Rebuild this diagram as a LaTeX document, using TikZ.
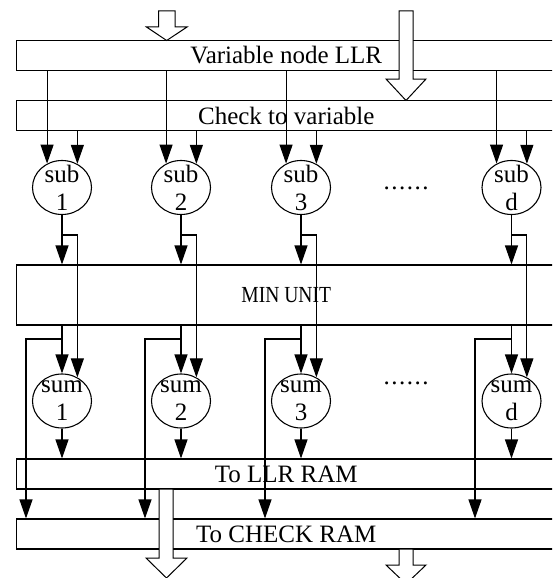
\documentclass[tikz,border=0pt]{standalone}
\usepackage{fontspec}
\setmainfont{Liberation Serif}
\newfontfamily\narrowfont[FakeStretch=0.85]{Liberation Serif}
\newfontfamily\dotsfont[LetterSpace=6]{Liberation Serif}
\usetikzlibrary{arrows.meta,shapes.geometric}

\begin{document}
\begin{tikzpicture}[x=1pt,y=-1pt,line width=1.1pt,>={Triangle[length=19pt,width=13pt]},font=\fontsize{25}{28}\selectfont]
\tikzstyle{bar}=[draw,minimum width=539.5pt,minimum height=30pt,inner sep=0pt]
\tikzstyle{pe}=[draw,ellipse,minimum width=59pt,minimum height=54pt,inner xsep=-6pt,inner ysep=-15pt,align=center]
\tikzstyle{hollow}=[draw,fill=white,line width=1pt]
\useasboundingbox (0,0) rectangle (552,578);
\clip (0,0) rectangle (552,578);
% memories and min unit
\node[bar] (vn) at (286.25,55.5) {Variable node LLR};
\node[bar] (cv) at (286.25,115.5) {Check to variable};
\node[bar,minimum height=60pt,font=\narrowfont\fontsize{23}{27}\selectfont] (mu) at (286.25,295) {MIN UNIT};
\node[bar] (lr) at (286.25,474) {To LLR RAM};
\node[bar] (cr) at (286.25,534) {To CHECK RAM};
% column 1
\node[pe] (s1) at (62,187.5) {sub\\1}; \node[pe] (m1) at (62,401) {sum\\1};
\coordinate (b1) at (62,235); \coordinate (k1) at (62,339); \coordinate (t1) at (26,339);
\draw[->] (vn.south -| s1.122.2) -- (s1.122.2); \draw[->] (cv.south -| s1.57.8) -- (s1.57.8);
\draw[->] (s1.south) -- (s1.south |- mu.north); \draw[->] (b1) -| (m1.57.8);
\draw[->] (mu.south -| m1.north) -- (m1.north); \draw[->] (k1) -| (t1 |- cr.north);
\draw[->] (m1.south) -- (m1.south |- lr.north);
% column 2
\node[pe] (s2) at (181,187.5) {sub\\2}; \node[pe] (m2) at (181,401) {sum\\2};
\coordinate (b2) at (181,235); \coordinate (k2) at (181,339); \coordinate (t2) at (145,339);
\draw[->] (vn.south -| s2.122.2) -- (s2.122.2); \draw[->] (cv.south -| s2.57.8) -- (s2.57.8);
\draw[->] (s2.south) -- (s2.south |- mu.north); \draw[->] (b2) -| (m2.57.8);
\draw[->] (mu.south -| m2.north) -- (m2.north); \draw[->] (k2) -| (t2 |- cr.north);
\draw[->] (m2.south) -- (m2.south |- lr.north);
% column 3
\node[pe] (s3) at (301,187.5) {sub\\3}; \node[pe] (m3) at (301,401) {sum\\3};
\coordinate (b3) at (301,235); \coordinate (k3) at (301,339); \coordinate (t3) at (265,339);
\draw[->] (vn.south -| s3.122.2) -- (s3.122.2); \draw[->] (cv.south -| s3.57.8) -- (s3.57.8);
\draw[->] (s3.south) -- (s3.south |- mu.north); \draw[->] (b3) -| (m3.57.8);
\draw[->] (mu.south -| m3.north) -- (m3.north); \draw[->] (k3) -| (t3 |- cr.north);
\draw[->] (m3.south) -- (m3.south |- lr.north);
% column d
\node[pe] (sd) at (511.5,187.5) {sub\\d}; \node[pe] (md) at (511.5,401) {sum\\d};
\coordinate (bd) at (511.5,235); \coordinate (kd) at (511.5,339); \coordinate (td) at (475,339);
\draw[->] (vn.south -| sd.122.2) -- (sd.122.2); \draw[->] (cv.south -| sd.57.8) -- (sd.57.8);
\draw[->] (sd.south) -- (sd.south |- mu.north); \draw[->] (bd) -| (md.57.8);
\draw[->] (mu.south -| md.north) -- (md.north); \draw[->] (kd) -| (td |- cr.north);
\draw[->] (md.south) -- (md.south |- lr.north);
\node[font=\dotsfont\fontsize{25}{28}\selectfont] (dt) at (406,188) {......};
\node[font=\dotsfont\fontsize{25}{28}\selectfont] (db) at (406,383) {......};
% wide data arrows
\draw[hollow] (158.5,11) -- (175,11) -- (175,27) -- (187,27) -- (166.7,40.5) -- (146.5,27) -- (158.5,27) -- cycle;
\draw[hollow] (399,11) -- (413,11) -- (413,79) -- (426,79) -- (406,100.5) -- (386,79) -- (399,79) -- cycle;
\draw[hollow] (159,489) -- (173,489) -- (173,558) -- (187,558) -- (166.5,578) -- (146,558) -- (159,558) -- cycle;
\draw[hollow] (399,549) -- (413,549) -- (413,565) -- (426,565) -- (406,584) -- (386,565) -- (399,565) -- cycle;
\end{tikzpicture}
\end{document}
